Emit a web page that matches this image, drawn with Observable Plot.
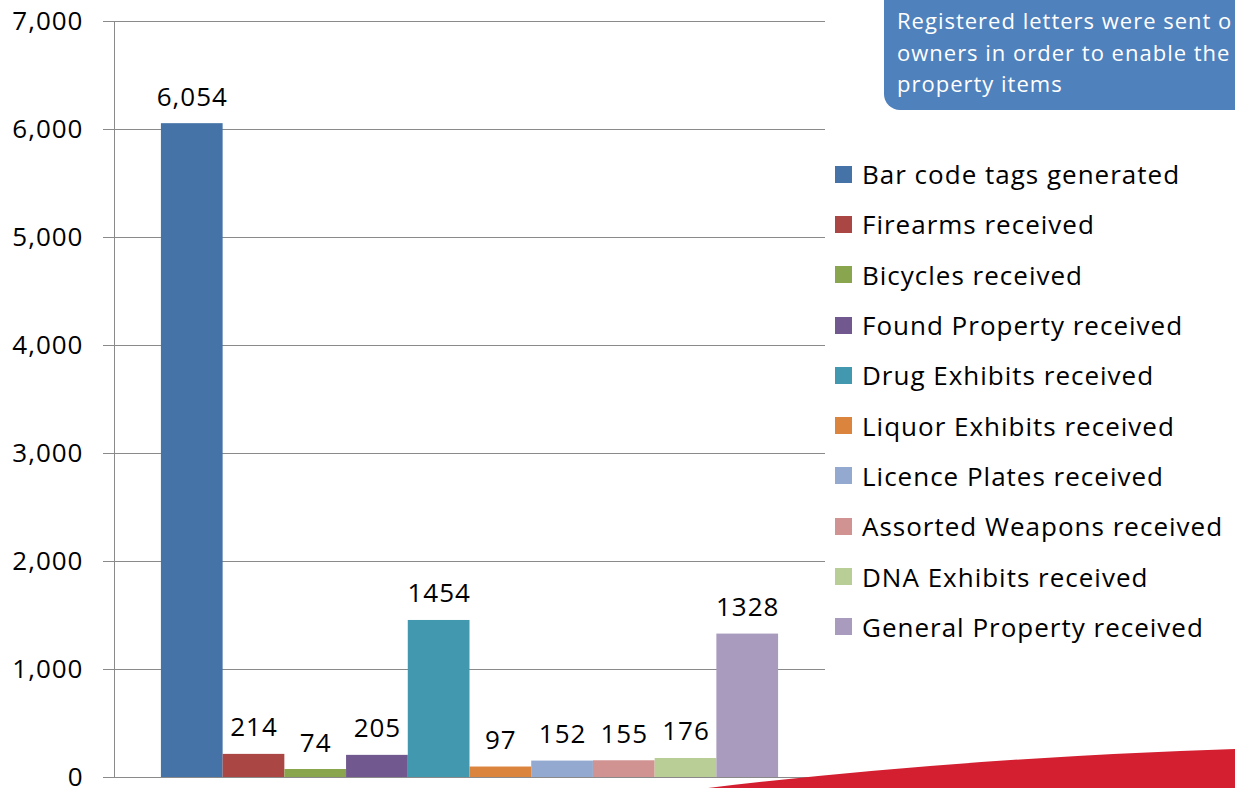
<!DOCTYPE html>
<html>
<head>
<meta charset="utf-8">
<script src="https://cdn.jsdelivr.net/npm/d3@7"></script>
<script src="https://cdn.jsdelivr.net/npm/@observablehq/plot@0.6"></script>
<style>
  html, body { margin: 0; padding: 0; background: #fff; overflow: hidden; }
  #wrap { position: relative; width: 1235px; height: 788px; overflow: hidden; font-family: "Open Sans", Lato, sans-serif; }
  #chart { position: absolute; left: 0; top: 0; }
  #legend { position: absolute; left: 835px; top: 149px; }
  .item { height: 50.3px; display: flex; align-items: center; font-size: 26px; letter-spacing: 1px; color: #000; white-space: nowrap; }
  .sw { width: 17px; height: 17px; margin-right: 10px; flex: none; }
  #callout { position: absolute; left: 884px; top: -20px; width: 420px; height: 130px; background: #4F81BD; border-radius: 16px; color: #fff; font-size: 22px; letter-spacing: 1px; line-height: 31.5px; box-sizing: border-box; padding: 25px 0 0 13px; white-space: nowrap; overflow: hidden; }
  #swoosh { position: absolute; left: 0; top: 0; }
</style>
</head>
<body>
<div id="wrap">
  <div id="chart"></div>
  <div id="legend"></div>
  <div id="callout"></div>
  <svg id="swoosh" width="1235" height="788"><path d="M708,788 Q 960,758 1235,749 L1235,788 Z" fill="#D31F30"/></svg>
</div>
<script>
const categories = [
  "Bar code tags generated",
  "Firearms received",
  "Bicycles received",
  "Found Property received",
  "Drug Exhibits received",
  "Liquor Exhibits received",
  "Licence Plates received",
  "Assorted Weapons received",
  "DNA Exhibits received",
  "General Property received"
];
const values = [6054, 214, 74, 205, 1454, 97, 152, 155, 176, 1328];
const valueLabels = ["6,054", "214", "74", "205", "1454", "97", "152", "155", "176", "1328"];
const colors = ["#4572A7", "#AA4643", "#89A54E", "#71588F", "#4198AF", "#DB843D", "#93A9CF", "#D19392", "#B9CD96", "#A99BBD"];
const yTicks = [0, 1000, 2000, 3000, 4000, 5000, 6000, 7000];
const calloutLines = ["Registered letters were sent o", "owners in order to enable the", "property items"];

const data = categories.map((c, i) => ({name: c, value: values[i], label: valueLabels[i]}));

const plot = Plot.plot({
  width: 1235,
  height: 788,
  marginTop: 21,
  marginBottom: 11,
  marginLeft: 114,
  marginRight: 410,
  style: {fontFamily: "'Open Sans', Lato, sans-serif", fontSize: "26px", letterSpacing: "1px", color: "#000", background: "transparent"},
  x: {domain: categories, paddingInner: 0, paddingOuter: 0.76, round: false, axis: null},
  y: {domain: [0, 7000], ticks: yTicks, tickFormat: d3.format(","), tickSize: 11, tickPadding: 20, label: null},
  color: {domain: categories, range: colors},
  marks: [
    Plot.gridY(yTicks, {stroke: "#8a8a8a", strokeOpacity: 1, strokeWidth: 1}),
    Plot.axisY(yTicks, {tickSize: 11, tickPadding: 20, tickFormat: d3.format(","), stroke: "#8a8a8a", fontSize: 26, fill: "#000", label: null}),
    Plot.frame({anchor: "left", stroke: "#8a8a8a"}),
    Plot.barY(data, {x: "name", y: "value", fill: "name"}),
    Plot.text(data, {x: "name", y: "value", text: "label", lineAnchor: "bottom", dy: -18, fontSize: 26, fill: "#000"})
  ]
});
document.getElementById("chart").appendChild(plot);

const legend = document.getElementById("legend");
categories.forEach((c, i) => {
  const row = document.createElement("div");
  row.className = "item";
  const sw = document.createElement("span");
  sw.className = "sw";
  sw.style.background = colors[i];
  row.appendChild(sw);
  row.appendChild(document.createTextNode(c));
  legend.appendChild(row);
});

const callout = document.getElementById("callout");
calloutLines.forEach(t => {
  const d = document.createElement("div");
  d.textContent = t;
  callout.appendChild(d);
});
</script>
</body>
</html>
